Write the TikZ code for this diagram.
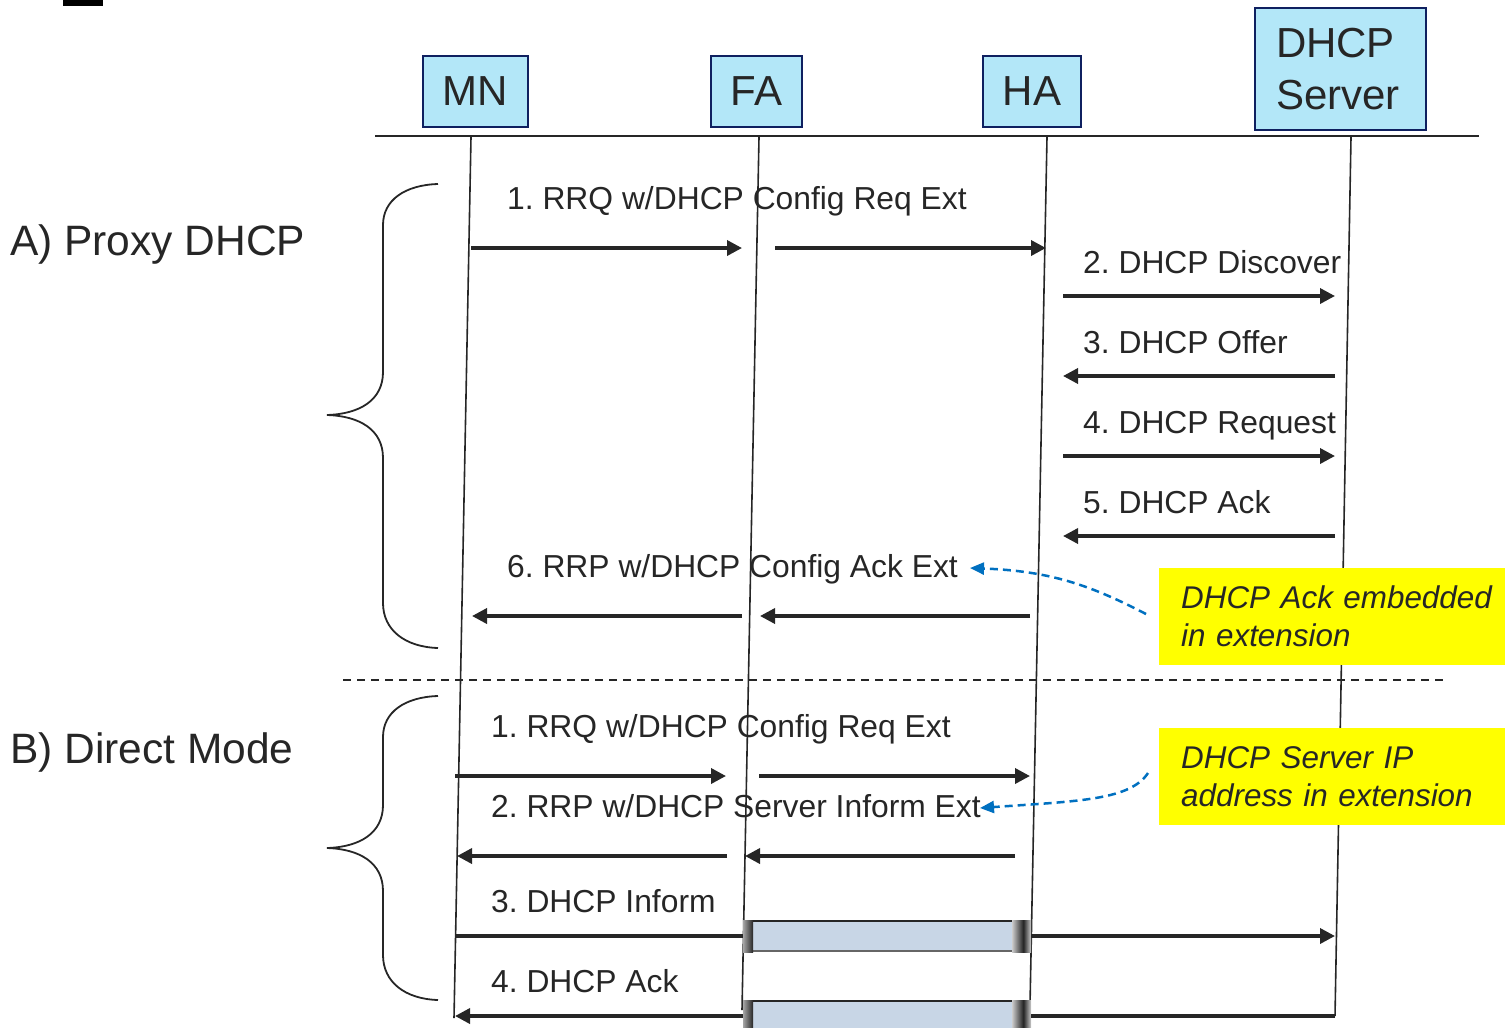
\documentclass[tikz,border=0pt]{standalone}
\usepackage{fontspec}
\setmainfont{Liberation Sans}
\usetikzlibrary{arrows.meta}
\definecolor{txt}{HTML}{262626}
\definecolor{entfill}{HTML}{B3E7F8}
\definecolor{entline}{HTML}{0F2060}
\definecolor{callblue}{HTML}{0070C0}
\definecolor{notefill}{HTML}{FFFF00}
\definecolor{cylfill}{HTML}{C8D6E6}
\frenchspacing
\begin{document}
\begin{tikzpicture}[x=1bp,y=-1bp,
  msg/.style={line width=3.5bp, draw=txt, -{Triangle[length=15bp,width=15bp]}},
  plainmsg/.style={line width=3.5bp, draw=txt},
  lbl/.style={anchor=base west, inner sep=0, text=txt, font=\fontsize{31.8bp}{38bp}\selectfont},
  biglbl/.style={anchor=base west, inner sep=0, text=txt, font=\fontsize{42.5bp}{52bp}\selectfont},
  ent/.style={draw=entline, fill=entfill, line width=2bp, text=txt, inner sep=0,
    font=\fontsize{42bp}{52bp}\selectfont, align=left},
  life/.style={draw=txt, line width=1.6bp},
  brace/.style={draw=txt, line width=1.8bp},
  note/.style={fill=notefill, anchor=north west, minimum width=346bp, minimum height=97bp,
    inner xsep=22bp, inner ysep=0, text width=324bp, align=left, text=txt,
    font=\fontsize{31.4bp}{38bp}\selectfont\itshape},
  callarrow/.style={draw=callblue, line width=2.5bp, dash pattern=on 8bp off 5bp,
    -{Triangle[length=14bp,width=12bp]}}
]
\useasboundingbox (0,0) rectangle (1505,1027);
\fill[black] (63,0) rectangle (103,6);

% entities
\node[ent, minimum width=105bp, minimum height=71bp] (mn) at (475.5,91.5) {MN};
\node[ent, minimum width=91bp, minimum height=71bp] (fa) at (756.5,91.5) {FA};
\node[ent, minimum width=98bp, minimum height=71bp] (ha) at (1032,91.5) {HA};
\node[ent, minimum width=171bp, minimum height=122bp, text width=129bp] (srv) at (1340.5,69) {DHCP\\Server};

% top line
\coordinate (topL) at (375,136);
\coordinate (topR) at (1479,136);
\draw[draw=txt, line width=2bp] (topL) -- (topR);

% lifelines
\coordinate (mnT) at (471,137);   \coordinate (mnB) at (454,1018);
\coordinate (faT) at (759,137);   \coordinate (faB) at (742,1010);
\coordinate (haT) at (1047,137);  \coordinate (haB) at (1030,1005);
\coordinate (srvT) at (1351,137); \coordinate (srvB) at (1335,1016);
\draw[life] (mnT) -- (mnB);
\draw[life] (faT) -- (faB);
\draw[life] (haT) -- (haB);
\draw[life] (srvT) -- (srvB);

% section labels
\node[biglbl] (secA) at (10,255) {A) Proxy DHCP};
\node[biglbl] (secB) at (10,763) {B) Direct Mode};

% braces
\coordinate (bA1) at (438,184); \coordinate (bAt) at (327,415); \coordinate (bA2) at (438,648);
\draw[brace] (bA1) .. controls (405,185) and (383,200) .. (383,225) -- (383,372)
  .. controls (383,400) and (360,414) .. (bAt)
  .. controls (360,416) and (383,430) .. (383,458) -- (383,603)
  .. controls (383,630) and (405,647) .. (bA2);
\coordinate (bB1) at (438,696); \coordinate (bBt) at (327,848); \coordinate (bB2) at (438,1000);
\draw[brace] (bB1) .. controls (405,697) and (383,712) .. (383,737) -- (383,805)
  .. controls (383,833) and (360,847) .. (bBt)
  .. controls (360,849) and (383,863) .. (383,891) -- (383,955)
  .. controls (383,982) and (405,999) .. (bB2);

% dashed separator
\coordinate (sepL) at (343,680); \coordinate (sepR) at (1443,680);
\draw[draw=txt, line width=1.5bp, dash pattern=on 8bp off 6bp] (sepL) -- (sepR);

% ---- A) Proxy DHCP messages
\node[lbl] (la1) at (507,209) {1. RRQ w/DHCP Config Req Ext};
\coordinate (a1s) at (471,248); \coordinate (a1e) at (742,248);
\coordinate (a1s2) at (775,248); \coordinate (a1e2) at (1046,248);
\draw[msg] (a1s) -- (a1e);
\draw[msg] (a1s2) -- (a1e2);

\node[lbl] (la2) at (1083,273) {2. DHCP Discover};
\coordinate (a2s) at (1063,296); \coordinate (a2e) at (1335,296);
\draw[msg] (a2s) -- (a2e);

\node[lbl] (la3) at (1083,353) {3. DHCP Offer};
\coordinate (a3s) at (1335,376); \coordinate (a3e) at (1063,376);
\draw[msg] (a3s) -- (a3e);

\node[lbl] (la4) at (1083,433) {4. DHCP Request};
\coordinate (a4s) at (1063,456); \coordinate (a4e) at (1335,456);
\draw[msg] (a4s) -- (a4e);

\node[lbl] (la5) at (1083,513) {5. DHCP Ack};
\coordinate (a5s) at (1335,536); \coordinate (a5e) at (1063,536);
\draw[msg] (a5s) -- (a5e);

\node[lbl] (la6) at (507,577) {6. RRP w/DHCP Config Ack Ext};
\coordinate (a6s) at (1030,616); \coordinate (a6e) at (760,616);
\coordinate (a6s2) at (742,616); \coordinate (a6e2) at (472,616);
\draw[msg] (a6s) -- (a6e);
\draw[msg] (a6s2) -- (a6e2);

% ---- B) Direct Mode messages
\node[lbl] (lb1) at (491,737) {1. RRQ w/DHCP Config Req Ext};
\coordinate (b1s) at (455,776); \coordinate (b1e) at (726,776);
\coordinate (b1s2) at (759,776); \coordinate (b1e2) at (1030,776);
\draw[msg] (b1s) -- (b1e);
\draw[msg] (b1s2) -- (b1e2);

\node[lbl] (lb2) at (491,817) {2. RRP w/DHCP Server Inform Ext};
\coordinate (b2s) at (1015,856); \coordinate (b2e) at (745,856);
\coordinate (b2s2) at (727,856); \coordinate (b2e2) at (457,856);
\draw[msg] (b2s) -- (b2e);
\draw[msg] (b2s2) -- (b2e2);

% tunnels
\foreach \yy in {921,1001}{
  \fill[cylfill] (748,\yy) rectangle (1026,\yy+30);
  \draw[draw=black!85, line width=2.5bp] (748,\yy) -- (1026,\yy);
  \draw[draw=black!60, line width=2.5bp] (748,\yy+30) -- (1026,\yy+30);
  \shade[left color=gray!70, right color=black!85] (743,\yy-1) rectangle (753,\yy+31);
  \shade[left color=gray!40, right color=black!90] (1012,\yy-1) rectangle (1024,\yy+31);
  \shade[left color=black!80, right color=gray!40] (1024,\yy-1) rectangle (1031,\yy+31);
}

\node[lbl] (lb3) at (491,912) {3. DHCP Inform};
\coordinate (b3s) at (455,936); \coordinate (b3e) at (743,936);
\coordinate (b3s2) at (1031,936); \coordinate (b3e2) at (1335,936);
\draw[plainmsg] (b3s) -- (b3e);
\draw[msg] (b3s2) -- (b3e2);

\node[lbl] (lb4) at (491,992) {4. DHCP Ack};
\coordinate (b4s) at (1335,1016); \coordinate (b4e) at (1031,1016);
\coordinate (b4s2) at (743,1016); \coordinate (b4e2) at (455,1016);
\draw[plainmsg] (b4s) -- (b4e);
\draw[msg] (b4s2) -- (b4e2);

% notes
\node[note] (n1) at (1159,568) {DHCP Ack embedded\\in extension};
\node[note] (n2) at (1159,728) {DHCP Server IP\\address in extension};
\coordinate (c1s) at (1146,614); \coordinate (c1e) at (970,568);
\draw[callarrow] (c1s) .. controls (1090,585) and (1050,571) .. (c1e);
\coordinate (c2s) at (1148,773); \coordinate (c2e) at (980,808);
\draw[callarrow] (c2s) .. controls (1130,800) and (1080,801) .. (c2e);
\end{tikzpicture}
\end{document}
